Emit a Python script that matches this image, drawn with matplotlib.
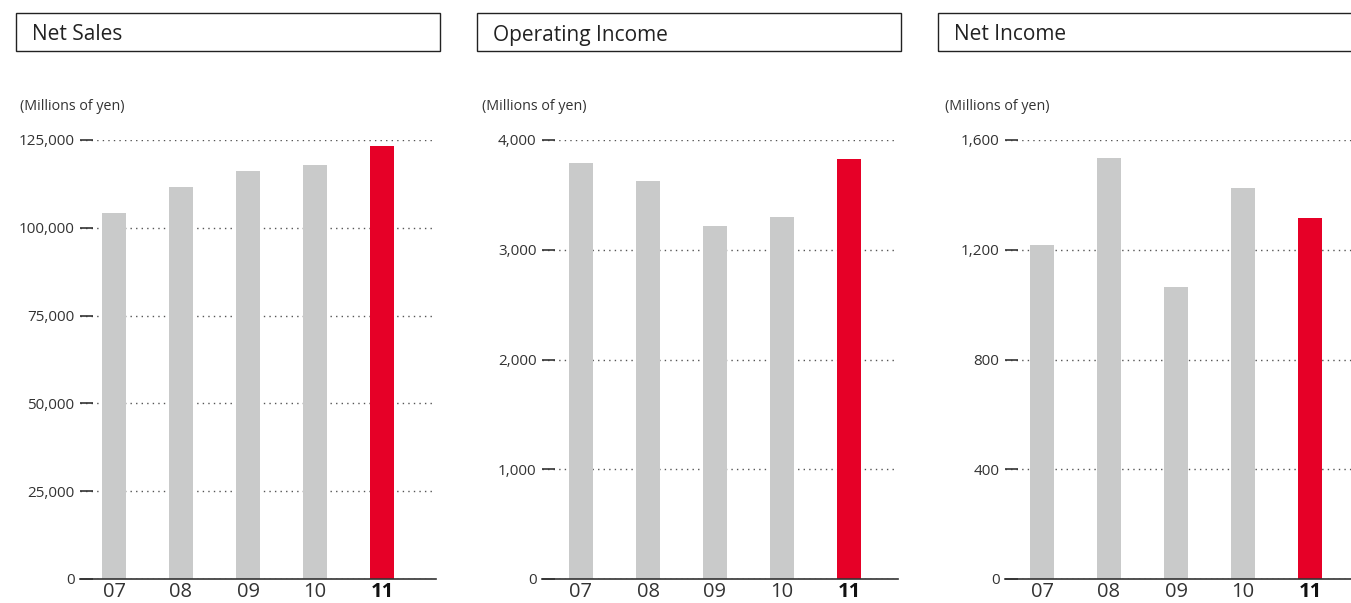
import matplotlib
matplotlib.use("Agg")
import matplotlib.pyplot as plt
from matplotlib.patches import Rectangle
import numpy as np

plt.rcParams['font.family'] = ['Open Sans', 'DejaVu Sans']

# data
years = ['07', '08', '09', '10', '11']
net_sales = [104200, 111600, 116200, 117900, 123300]
operating_income = [3790, 3626, 3216, 3298, 3827]
net_income = [1217, 1534, 1064, 1425, 1316]

titles = ['Net Sales', 'Operating Income', 'Net Income']
series = [net_sales, operating_income, net_income]
y_ticks = [[0, 25000, 50000, 75000, 100000, 125000],
           [0, 1000, 2000, 3000, 4000],
           [0, 400, 800, 1200, 1600]]
unit_label = '(Millions of yen)'

GRAY = '#c9caca'
RED = '#e60027'
TXT = '#333333'

W, H = 1351, 603
fig = plt.figure(figsize=(W / 100, H / 100), dpi=100)

# pixel layout of each panel: (box left, axis left, axis right, first bar offset)
panels = [(16, 80, 436, 34), (477, 542, 898, 39), (938, 1005, 1362, 37)]
step = 67.0
y_top, y_bot = 140, 579

for i, (bx, ax_l, ax_r, off) in enumerate(panels):
    # title box
    fig.patches.append(Rectangle((bx / W, 1 - 51 / H), 424 / W, 38 / H,
                                 transform=fig.transFigure, fill=False,
                                 edgecolor='#222222', linewidth=1.0))
    fig.text((bx + 16) / W, 1 - 35 / H, titles[i], fontsize=15,
             color='#222222', va='center', ha='left')
    fig.text((ax_l - 60) / W, 1 - 106 / H, unit_label, fontsize=10.3,
             color=TXT, va='center', ha='left')

    ax = fig.add_axes([ax_l / W, 1 - y_bot / H, (ax_r - ax_l) / W,
                       (y_bot - y_top) / H])
    x = np.arange(len(years))
    vals = series[i]
    colors = [GRAY] * (len(years) - 1) + [RED]
    ax.bar(x, vals, width=24 / step, color=colors, zorder=3)

    ax.set_xlim(-off / step, (ax_r - ax_l - off) / step)
    ax.set_ylim(0, y_ticks[i][-1])
    ax.set_yticks(y_ticks[i])
    ax.set_yticklabels(['{:,}'.format(v) for v in y_ticks[i]])
    ax.set_xticks(x)
    ax.set_xticklabels(years)
    for lab in ax.get_xticklabels():
        lab.set_fontsize(14.5)
        lab.set_color(TXT)
    ax.get_xticklabels()[-1].set_fontweight('bold')
    ax.get_xticklabels()[-1].set_color('#111111')

    ax.yaxis.grid(True, linestyle=(0, (1, 3)), color='#555555', linewidth=1.0,
                  zorder=1)
    ax.tick_params(axis='y', direction='in', length=9, width=1.2,
                   color='#333333', labelsize=11, labelcolor=TXT, pad=4)
    ax.tick_params(axis='x', length=0, pad=2)
    for s in ['left', 'right', 'top']:
        ax.spines[s].set_visible(False)
    ax.spines['bottom'].set_color('#333333')
    ax.spines['bottom'].set_linewidth(1.2)
    ax.spines['bottom'].set_zorder(4)
    ax.set_facecolor('none')

fig.savefig('out.png', dpi=100)
